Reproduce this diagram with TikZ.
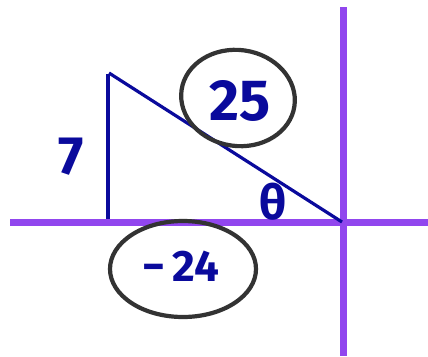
\documentclass[tikz,border=0pt]{standalone}
\usepackage{fontspec}
\setmainfont{Fira Sans}
\definecolor{axis}{HTML}{9146EE}
\definecolor{ink}{HTML}{0A0A9C}
\definecolor{ring}{HTML}{333333}
\tikzset{
  axisline/.style={draw=axis,line width=7pt},
  triline/.style={draw=ink,line width=3.2pt},
  ringline/.style={draw=ring,line width=4.2pt},
  numtext/.style={text=ink,font=\bfseries,inner sep=0pt}
}
\begin{document}
\begin{tikzpicture}[x=1pt,y=-1pt]
\useasboundingbox[fill=white] (0,0) rectangle (428,356);
% axes
\coordinate (hl) at (10,222);
\coordinate (hr) at (428,222);
\coordinate (vt) at (343,7);
\coordinate (vb) at (343,356);
\draw[axisline] (hl) -- (hr);
\draw[axisline] (vt) -- (vb);
% triangle
\coordinate (A) at (108,219);
\coordinate (B) at (108,74);
\coordinate (C) at (342,222);
\draw[triline] (A) -- (B);
\draw[triline] (109,73) -- (C);
% rings
\draw[ringline,rotate around={-8:(238,98)}] (238,98) ellipse [x radius=57, y radius=48];
\draw[ringline] (183,269) ellipse [x radius=73, y radius=48];
% labels
\node[numtext,font=\bfseries\fontsize{58}{58}\selectfont] (n25) at (240,101) {25};
\node[numtext,font=\bfseries\fontsize{54}{54}\selectfont] (n7) at (71,157) {7};
\node[numtext,font=\bfseries\fontsize{48}{48}\selectfont] (th) at (273,202) {θ};
\node[numtext,font=\bfseries\fontsize{44}{44}\selectfont] (n24) at (181,266) {−\,24};
\end{tikzpicture}
\end{document}
